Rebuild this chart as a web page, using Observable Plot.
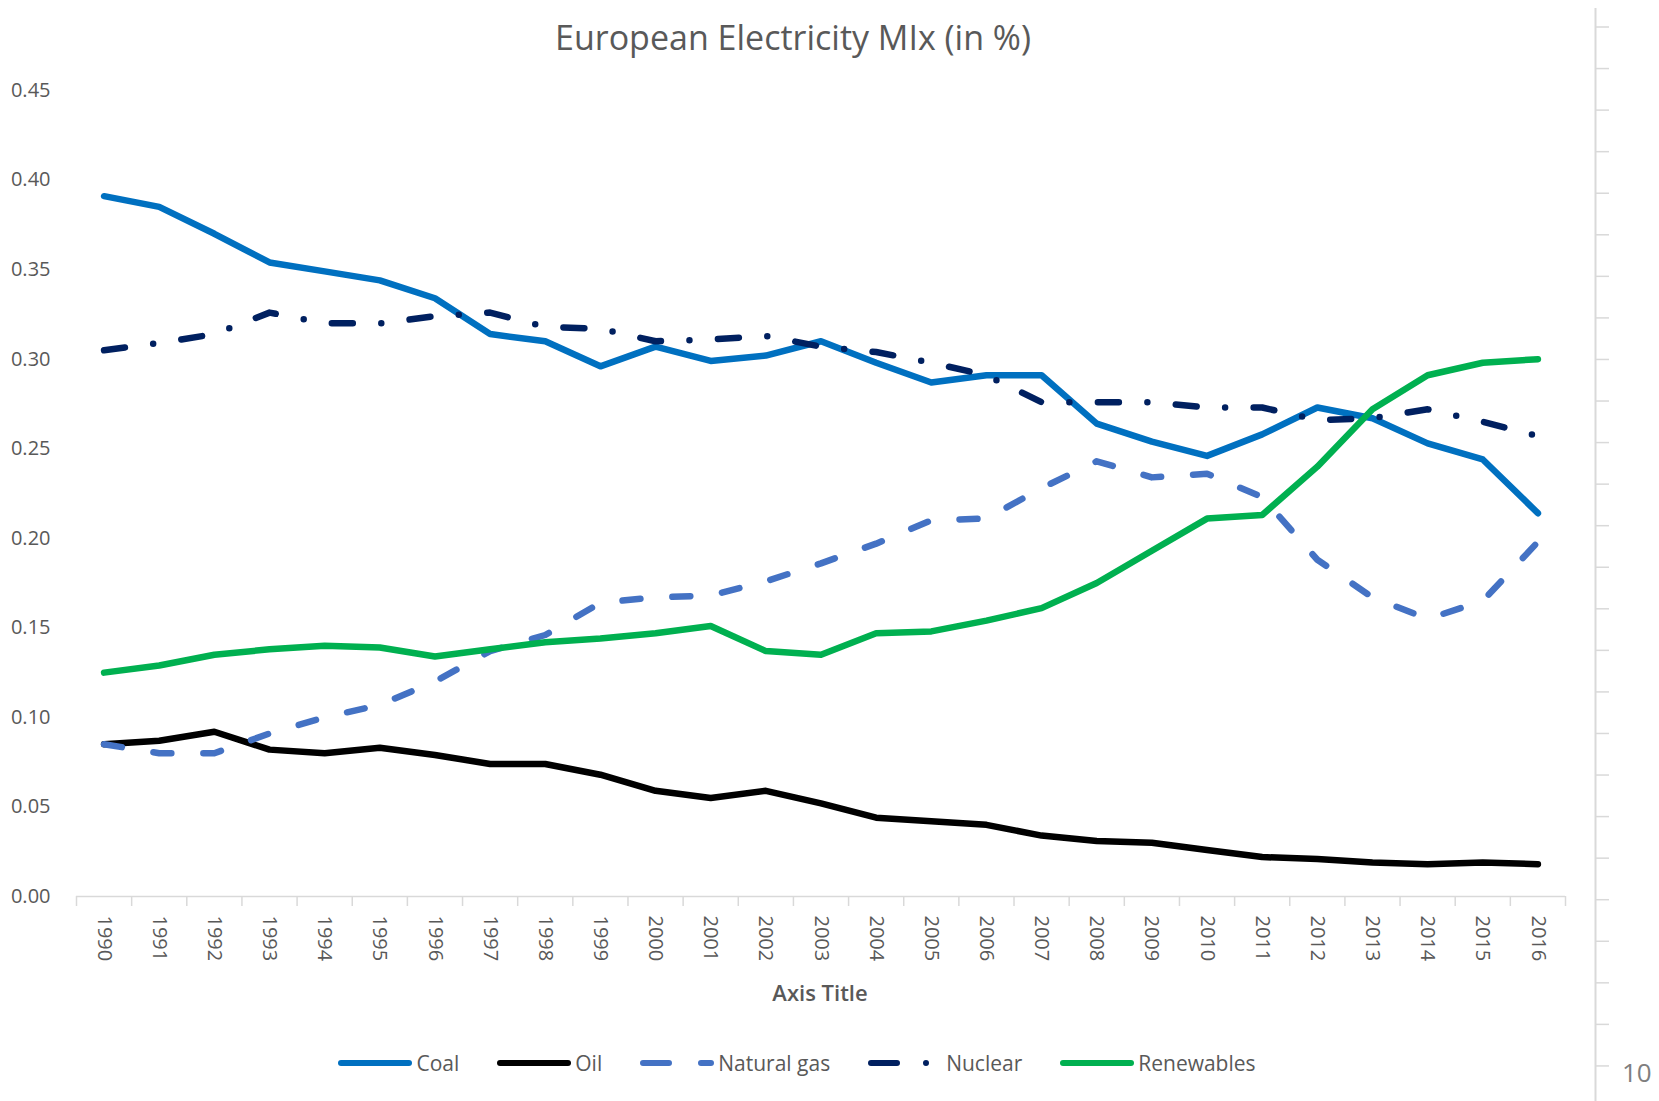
<!DOCTYPE html>
<html><head><meta charset="utf-8">
<script src="https://cdn.jsdelivr.net/npm/d3@7"></script>
<script src="https://cdn.jsdelivr.net/npm/@observablehq/plot@0.6"></script>
<style>
html,body{margin:0;padding:0;background:#fff;}
body{width:1659px;height:1101px;overflow:hidden;position:relative;font-family:'Open Sans',sans-serif;color:#595959;}
#title{position:absolute;left:0;width:1586px;top:13px;line-height:48px;text-align:center;font-size:34px;}
#chart{position:absolute;left:0;top:60px;}
#side{position:absolute;left:1583px;top:0;}
#axistitle{position:absolute;left:0;width:1640px;top:976px;line-height:32px;text-align:center;font-size:22px;font-weight:600;}
#legend{position:absolute;left:0;width:1594px;top:1048px;height:30px;display:flex;justify-content:center;align-items:center;gap:38px;font-size:21px;}
#legend .item{display:flex;align-items:center;gap:4px;}
#legend svg{display:block;}
#page{position:absolute;left:1622px;top:1054px;line-height:36px;font-size:26px;color:#7f7f7f;}
</style></head><body>
<div id="title">European Electricity MIx (in %)</div>
<div id="chart"></div>
<div id="axistitle">Axis Title</div>
<div id="legend"></div>
<div id="side"></div>
<div id="page">10</div>
<script>
const years = d3.range(1990, 2017);
const coal = [0.391,0.385,0.370,0.354,0.349,0.344,0.334,0.314,0.310,0.296,0.307,0.299,0.302,0.310,0.298,0.287,0.291,0.291,0.264,0.254,0.246,0.258,0.273,0.267,0.253,0.244,0.214];
const oil = [0.085,0.087,0.092,0.082,0.080,0.083,0.079,0.074,0.074,0.068,0.059,0.055,0.059,0.052,0.044,0.042,0.040,0.034,0.031,0.030,0.026,0.022,0.021,0.019,0.018,0.019,0.018];
const naturalGas = [0.085,0.080,0.080,0.091,0.100,0.107,0.120,0.137,0.146,0.164,0.167,0.168,0.176,0.186,0.197,0.210,0.211,0.228,0.243,0.234,0.236,0.223,0.188,0.167,0.155,0.165,0.198];
const nuclear = [0.305,0.309,0.314,0.326,0.320,0.320,0.324,0.326,0.318,0.317,0.310,0.311,0.313,0.307,0.304,0.298,0.291,0.276,0.276,0.276,0.273,0.273,0.266,0.267,0.272,0.265,0.257];
const renewables = [0.125,0.129,0.135,0.138,0.140,0.139,0.134,0.138,0.142,0.144,0.147,0.151,0.137,0.135,0.147,0.148,0.154,0.161,0.175,0.193,0.211,0.213,0.240,0.272,0.291,0.298,0.300];
const yTicks = [0, 0.05, 0.10, 0.15, 0.20, 0.25, 0.30, 0.35, 0.40, 0.45];
const seriesNames = ["Coal", "Oil", "Natural gas", "Nuclear", "Renewables"];
const seriesValues = [coal, oil, naturalGas, nuclear, renewables];
const seriesColors = ["#0070C0", "#000000", "#4472C4", "#002060", "#00B050"];
const seriesDash = [null, null, "18 32", "21 28.5 0 28.5", null];
const legendDash = [null, null, "26 32", "26 29 0 100", null];

const boundaries = [years[0] - 0.5, ...years.map(y => y + 0.5)];

const lineMarks = seriesNames.map((name, k) => Plot.lineY(
  years.map((year, i) => ({year, value: seriesValues[k][i], series: name})),
  {x: "year", y: "value", stroke: seriesColors[k], strokeWidth: 6.5,
   strokeDasharray: seriesDash[k] || undefined, strokeLinecap: "round", strokeLinejoin: "round"}
));

const chart = Plot.plot({
  width: 1585, height: 916,
  marginLeft: 76, marginRight: 20, marginTop: 30, marginBottom: 80,
  style: {fontFamily: "'Open Sans', sans-serif", color: "#595959", background: "white"},
  x: {type: "linear", domain: [years[0] - 0.5, years[years.length - 1] + 0.5], label: null},
  y: {domain: [0, 0.45], label: null},
  marks: [
    Plot.axisY({ticks: yTicks, tickFormat: d3.format(".2f"), tickSize: 0, tickPadding: 26, fontSize: 20, label: null}),
    Plot.axisX({ticks: boundaries, tickFormat: () => "", tickSize: 10, stroke: "#D9D9D9", strokeWidth: 1.5, label: null}),
    Plot.axisX({ticks: years, tickFormat: d => String(d), tickSize: 0, tickPadding: 19, tickRotate: 90, fontSize: 20, label: null}),
    Plot.ruleY([0], {stroke: "#D9D9D9", strokeWidth: 1.5}),
    ...lineMarks
  ]
});
document.getElementById("chart").appendChild(chart);

// decorative side axis (slide frame)
const sideTicks = d3.range(0, 27);
const side = Plot.plot({
  width: 40, height: 1101,
  marginLeft: 12, marginRight: 14, marginTop: 8, marginBottom: 0,
  x: {domain: [0, 1], axis: null},
  y: {domain: [0, 26], range: [26.5, 1107], axis: null},
  marks: [
    Plot.tickY(sideTicks, {y: d => d, stroke: "#D9D9D9", strokeWidth: 1.5}),
    Plot.ruleX([0], {stroke: "#D9D9D9", strokeWidth: 2})
  ]
});
document.getElementById("side").appendChild(side);

// legend
const legend = d3.select("#legend");
seriesNames.forEach((name, k) => {
  const item = legend.append("div").attr("class", "item");
  const svg = item.append("svg").attr("width", 74).attr("height", 12);
  svg.append("line").attr("x1", 3).attr("x2", 71).attr("y1", 6).attr("y2", 6)
    .attr("stroke", seriesColors[k]).attr("stroke-width", 6).attr("stroke-linecap", "round")
    .attr("stroke-dasharray", legendDash[k]);
  item.append("span").text(name);
});
</script>
</body></html>
